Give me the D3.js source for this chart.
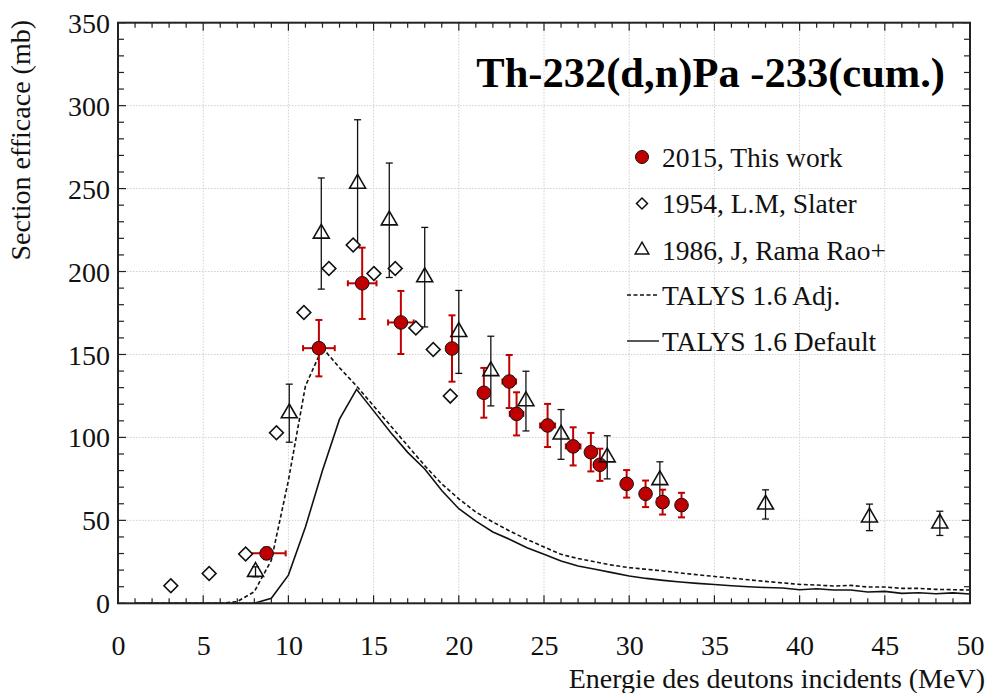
<!DOCTYPE html>
<html><head><meta charset="utf-8">
<script src="https://cdn.jsdelivr.net/npm/d3@7"></script>
<style>
html,body{margin:0;padding:0;background:#fff;}
</style></head>
<body><svg id="c" width="990" height="693"></svg>
<script>
// ---- data ----
const xTicks = [0,5,10,15,20,25,30,35,40,45,50];
const yTicks = [0,50,100,150,200,250,300,350];

const thisWorkE  = [8.72, 11.79, 14.33, 16.6, 19.6, 21.47, 22.96, 23.39, 25.21, 26.71, 27.75, 28.28, 29.85, 30.96, 31.96, 33.07];
const thisWorkXS = [30.1, 153.8, 192.9, 169.3, 153.6, 126.9, 133.7, 114.2, 107.2, 94.6, 91.1, 83.5, 72.0, 66.0, 61.0, 59.2];
const thisWorkDY = [3.5, 17, 21.5, 19, 20, 15, 16, 13, 13, 11.5, 11.6, 9.7, 8.3, 8, 7.5, 7.4];
const thisWorkDX = [1.12, 0.93, 0.84, 0.75, 0.3, 0.2, 0.4, 0.4, 0.44, 0.43, 0, 0.35, 0, 0, 0, 0];

const slaterE  = [3.1, 5.35, 7.49, 9.3, 10.91, 12.38, 13.8, 15.02, 16.27, 17.48, 18.5, 19.5];
const slaterXS = [10.6, 18, 29.7, 102.8, 175.3, 201.8, 216, 198.8, 201.8, 165.9, 153, 124.9];

const ramaE  = [8.07, 10.05, 11.93, 14.06, 15.92, 18.0, 20.0, 21.88, 23.94, 26.0, 28.71, 31.8, 38.0, 44.1, 48.23];
const ramaXS = [19, 114.6, 222.9, 253, 230.9, 196.6, 163.6, 140, 121.9, 101.8, 88, 74.3, 59.6, 51.8, 48.2];
const ramaDY = [3, 17.5, 33.5, 38.5, 34.5, 30, 25, 21, 18, 15, 13, 11, 8.8, 8, 7.3];

const talysE = [1,2,3,4,5,6,7,8,9,10,11,12,13,14,15,16,17,18,19,20,21,22,23,24,25,26,27,28,29,30,31,32,33,34,35,36,37,38,39,40,41,42,43,44,45,46,47,48,49,50];
const talysAdj = [0,0,0,0,0,0,1,7,26,74,131,154,142,131,119,107,95,83,72,63,55,49,43.5,38.5,34,29.5,27,25,23,21.5,20.5,19.5,18.3,17.2,16.2,15.2,14.2,13.2,12.3,11.4,11,10.4,10.8,9.8,9.8,9,9,8.4,8.2,8];
const talysDef = [0,0,0,0,0,0,0,0,3,17,46,80,111,129,116,103,91,81,68,57,49.5,43,38.5,33.5,29.5,25.5,22.5,20.5,18.5,16.5,15,13.8,12.8,12,11.3,10.6,10,9.5,9.2,8.2,8.8,8,8,6.8,7.2,6,6.4,5.8,6.3,5.6];

const legendLabels = ["2015, This work","1954, L.M, Slater","1986, J, Rama Rao+","TALYS 1.6 Adj.","TALYS 1.6 Default"];
const titleText = "Th-232(d,n)Pa -233(cum.)";
const xTitle = "Energie des deutons incidents (MeV)";
const yTitle = "Section efficace (mb)";

// ---- layout ----
const FONT = "'Times New Roman', 'Liberation Serif', Tinos, 'DejaVu Serif', 'Noto Serif', serif";
const L = 118, R = 970, T = 22.7, B = 603.3;
const RED = "#c00000";
const svg = d3.select("#c").attr("font-family", FONT);
const x = d3.scaleLinear().domain([0,50]).range([L,R]);
const y = d3.scaleLinear().domain([0,350]).range([B,T]);

// grid
const g = svg.append("g");
g.selectAll(".gx").data(xTicks.slice(1,-1)).join("line")
  .attr("x1",d=>x(d)).attr("x2",d=>x(d)).attr("y1",T).attr("y2",B)
  .attr("stroke","#cfcfcf").attr("stroke-width",1).attr("stroke-dasharray","1.5,1.5");
g.selectAll(".gy").data(yTicks.slice(1,-1)).join("line")
  .attr("y1",d=>y(d)).attr("y2",d=>y(d)).attr("x1",L).attr("x2",R)
  .attr("stroke","#cfcfcf").attr("stroke-width",1).attr("stroke-dasharray","1.5,1.5");

// curves
const line = d3.line().x(d=>x(d[0])).y(d=>y(d[1]));
svg.append("path").datum(talysE.map((e,i)=>[e,talysDef[i]])).attr("d",line)
  .attr("fill","none").attr("stroke","#111").attr("stroke-width",1.6);
svg.append("path").datum(talysE.map((e,i)=>[e,talysAdj[i]])).attr("d",line)
  .attr("fill","none").attr("stroke","#111").attr("stroke-width",1.6).attr("stroke-dasharray","4,2.5");

// axes with inward ticks
const minorX = d3.range(0,51,1), minorY = d3.range(0,351,10);
const ax = svg.append("g");
minorX.forEach(v=>{
  const len = v%5===0 ? 8 : 5;
  ax.append("line").attr("x1",x(v)).attr("x2",x(v)).attr("y1",B).attr("y2",B-len).attr("stroke","#222").attr("stroke-width",1.2);
  ax.append("line").attr("x1",x(v)).attr("x2",x(v)).attr("y1",T).attr("y2",T+len).attr("stroke","#222").attr("stroke-width",1.2);
});
minorY.forEach(v=>{
  const len = v%50===0 ? 8 : 6;
  ax.append("line").attr("y1",y(v)).attr("y2",y(v)).attr("x1",L).attr("x2",L+len).attr("stroke","#222").attr("stroke-width",1.2);
  ax.append("line").attr("y1",y(v)).attr("y2",y(v)).attr("x1",R).attr("x2",R-len).attr("stroke","#222").attr("stroke-width",1.2);
});
ax.append("rect").attr("x",L).attr("y",T).attr("width",R-L).attr("height",B-T)
  .attr("fill","none").attr("stroke","#222").attr("stroke-width",2);
const xa = svg.append("g").attr("transform",`translate(0,${B})`)
  .call(d3.axisBottom(x).tickValues(xTicks).tickSize(0).tickPadding(0));
xa.attr("font-family", FONT);
xa.select(".domain").remove();
xa.selectAll("text").attr("y",52).attr("dy",0).attr("font-size",28).attr("fill","#111");
const ya = svg.append("g").attr("transform",`translate(${L},0)`)
  .call(d3.axisLeft(y).tickValues(yTicks).tickSize(0).tickPadding(0));
ya.attr("font-family", FONT);
ya.select(".domain").remove();
ya.selectAll("text").attr("x",-8).attr("dy","0.34em").attr("font-size",28).attr("fill","#111");

// error bar helpers
function vbar(gp, xv, y0, y1, color, w, cap){
  gp.append("line").attr("x1",x(xv)).attr("x2",x(xv)).attr("y1",y(y0)).attr("y2",y(y1)).attr("stroke",color).attr("stroke-width",w);
  [y0,y1].forEach(v=>gp.append("line").attr("x1",x(xv)-cap).attr("x2",x(xv)+cap).attr("y1",y(v)).attr("y2",y(v)).attr("stroke",color).attr("stroke-width",w));
}
function hbar(gp, x0, x1, yv, color, w, cap){
  gp.append("line").attr("x1",x(x0)).attr("x2",x(x1)).attr("y1",y(yv)).attr("y2",y(yv)).attr("stroke",color).attr("stroke-width",w);
  [x0,x1].forEach(v=>gp.append("line").attr("x1",x(v)).attr("x2",x(v)).attr("y1",y(yv)-cap).attr("y2",y(yv)+cap).attr("stroke",color).attr("stroke-width",w));
}

// Rama Rao error bars
const gr = svg.append("g");
ramaE.forEach((e,i)=>vbar(gr, e, ramaXS[i]-ramaDY[i], ramaXS[i]+ramaDY[i], "#111", 1.3, 3.5));

// this work
const gw = svg.append("g");
thisWorkE.forEach((e,i)=>{
  vbar(gw, e, thisWorkXS[i]-thisWorkDY[i], thisWorkXS[i]+thisWorkDY[i], RED, 2, 3.5);
  if (thisWorkDX[i]>0) hbar(gw, e-thisWorkDX[i], e+thisWorkDX[i], thisWorkXS[i], RED, 2, 3);
});
gw.selectAll("circle").data(thisWorkE).join("circle")
  .attr("cx",d=>x(d)).attr("cy",(d,i)=>y(thisWorkXS[i])).attr("r",6.8)
  .attr("fill",RED).attr("stroke","#111").attr("stroke-width",1);

// Slater diamonds
const diamond = d3.symbol().type(d3.symbolSquare).size(95);
svg.append("g").selectAll("path").data(slaterE).join("path")
  .attr("d",diamond).attr("transform",(d,i)=>`translate(${x(d)},${y(slaterXS[i])}) rotate(45)`)
  .attr("fill","#fff").attr("stroke","#111").attr("stroke-width",1.6);

// Rama Rao triangles
const tri = d3.symbol().type(d3.symbolTriangle).size(110);
svg.append("g").selectAll("path").data(ramaE).join("path")
  .attr("d",tri).attr("transform",(d,i)=>`translate(${x(d)},${y(ramaXS[i])})`)
  .attr("fill","none").attr("stroke","#111").attr("stroke-width",1.6);

// title
svg.append("text").attr("x",945).attr("y",87).attr("text-anchor","end")
  .attr("font-size",42.5).attr("font-weight","bold").attr("fill","#000").text(titleText);

// axis titles
svg.append("text").attr("x",985).attr("y",688).attr("text-anchor","end")
  .attr("font-size",28).attr("fill","#111").text(xTitle);
svg.append("text").attr("transform","translate(30,20) rotate(-90)").attr("text-anchor","end")
  .attr("font-size",28).attr("fill","#111").text(yTitle);

// legend
const lg = svg.append("g");
const ly = [157, 203.5, 250, 295, 341];
const lx = 642, tx = 662;
lg.append("circle").attr("cx",lx).attr("cy",ly[0]).attr("r",6.5).attr("fill",RED).attr("stroke","#111").attr("stroke-width",1);
lg.append("path").attr("d",d3.symbol().type(d3.symbolSquare).size(60)).attr("transform",`translate(${lx},${ly[1]}) rotate(45)`)
  .attr("fill","#fff").attr("stroke","#111").attr("stroke-width",1.5);
lg.append("path").attr("d",d3.symbol().type(d3.symbolTriangle).size(80)).attr("transform",`translate(${lx},${ly[2]})`)
  .attr("fill","none").attr("stroke","#111").attr("stroke-width",1.5);
lg.append("line").attr("x1",627).attr("x2",659).attr("y1",ly[3]).attr("y2",ly[3]).attr("stroke","#111").attr("stroke-width",1.4).attr("stroke-dasharray","4,2.5");
lg.append("line").attr("x1",627).attr("x2",659).attr("y1",ly[4]).attr("y2",ly[4]).attr("stroke","#111").attr("stroke-width",1.4);
lg.selectAll("text").data(legendLabels).join("text")
  .attr("x",tx).attr("y",(d,i)=>ly[i]+9.5).attr("font-size",27.5).attr("fill","#111").text(d=>d);
</script></body></html>
